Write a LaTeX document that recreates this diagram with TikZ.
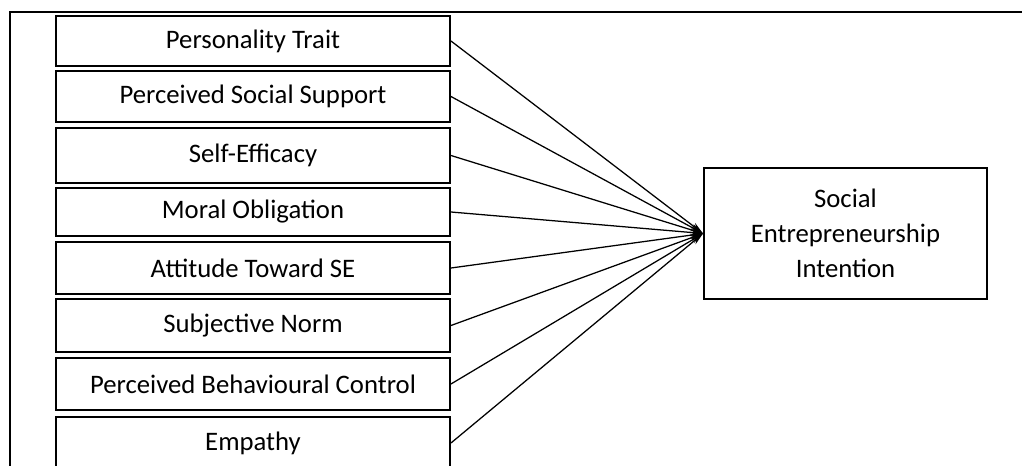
\documentclass[tikz,border=0pt]{standalone}
\usepackage{fontspec}
\setmainfont{Carlito}
\usetikzlibrary{arrows.meta,positioning}

\begin{document}
\begin{tikzpicture}[x=0.025cm,y=-0.025cm,
    factor/.style={draw,line width=1.3pt,minimum width=9.85cm,
                   font=\fontsize{19}{24}\selectfont,align=center,inner sep=0pt},
    target/.style={draw,line width=1.3pt,minimum width=7.075cm,minimum height=3.275cm,
                   font=\fontsize{19}{25}\selectfont,align=center},
    arrow/.style={-{Stealth[length=9pt,width=5pt]},line width=0.9pt}]

    \useasboundingbox (0,0) rectangle (1022,466);
    \clip (0,0) rectangle (1022,466);

    % outer frame (cut at right and bottom)
    \draw[line width=1.7pt] (10,12) rectangle (1040,490);

    \node[factor,minimum height=1.25cm]  (f1) at (253,41)    {Personality Trait};
    \node[factor,minimum height=1.275cm] (f2) at (253,96.5)  {Perceived Social Support};
    \node[factor,minimum height=1.375cm] (f3) at (253,155.5) {Self-Efficacy};
    \node[factor,minimum height=1.2cm]   (f4) at (253,212)   {Moral Obligation};
    \node[factor,minimum height=1.3cm]   (f5) at (253,268)   {Attitude Toward SE};
    \node[factor,minimum height=1.325cm] (f6) at (253,325.5) {Subjective Norm};
    \node[factor,minimum height=1.3cm]   (f7) at (253,384)   {Perceived Behavioural Control};
    \node[factor,minimum height=1.3cm]   (f8) at (253,443)   {Empathy};

    \node[target] (sei) at (845.5,233.5) {Social\\Entrepreneurship\\Intention};

    \foreach \i in {1,...,8} { \draw[arrow] (f\i.east) -- (sei.west); }
\end{tikzpicture}
\end{document}
